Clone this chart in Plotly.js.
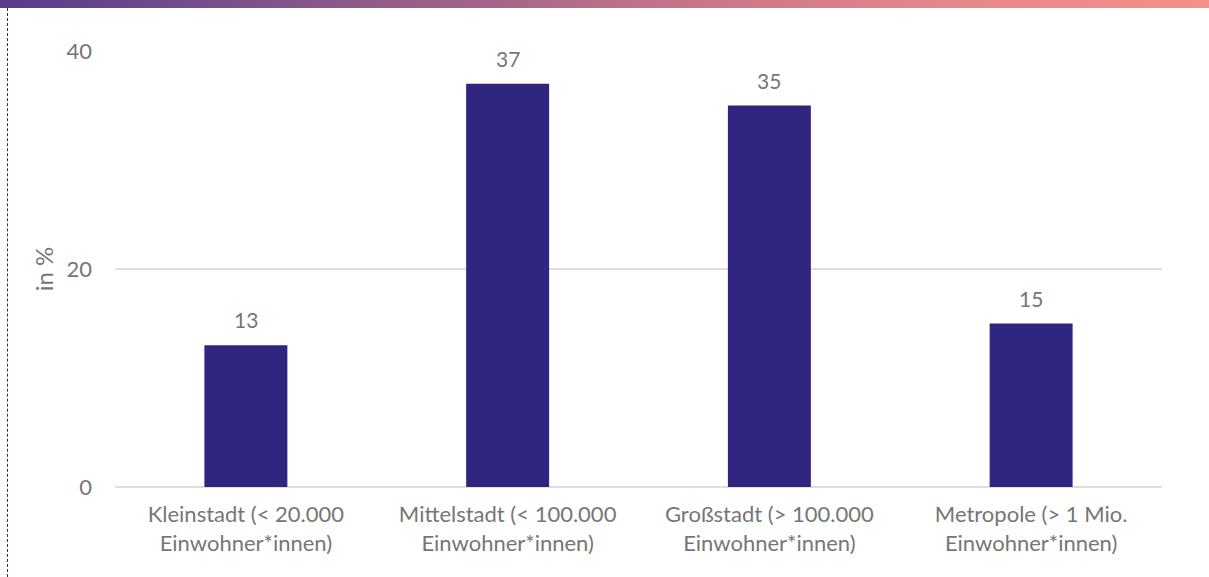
<!DOCTYPE html>
<html>
<head>
<meta charset="utf-8">
<script src="https://cdn.plot.ly/plotly-3.0.1.min.js"></script>
<style>
  html, body { margin: 0; padding: 0; background: #fff; }
  #wrap { position: relative; width: 1209px; height: 577px; overflow: hidden; }
  #topbar { position: absolute; left: 0; top: 0; width: 1209px; height: 8px;
    background: linear-gradient(to right, #583c8b 0%, #8a5a8a 28%, #c37388 55%, #e4878a 78%, #f39188 100%); z-index: 5; }
  #leftline { position: absolute; left: 7px; top: 8px; width: 0; height: 569px;
    border-left: 1px dashed #2c2a78; z-index: 5; }
  #chart { position: absolute; left: 0; top: 0; width: 1209px; height: 577px; }
</style>
</head>
<body>
<div id="wrap">
  <div id="chart"></div>
  <div id="topbar"></div>
  <div id="leftline"></div>
</div>
<script>
const categories = [
  "Kleinstadt (< 20.000<br>Einwohner*innen)",
  "Mittelstadt (< 100.000<br>Einwohner*innen)",
  "Großstadt (> 100.000<br>Einwohner*innen)",
  "Metropole (> 1 Mio.<br>Einwohner*innen)"
];
const values = [13, 37, 35, 15];
const yTicks = [0, 20, 40];

const fontFam = "Lato, 'Open Sans', sans-serif";
const grey = "#767676";

const trace = {
  type: "bar",
  x: categories,
  y: values,
  marker: { color: "#31267f" },
  hoverinfo: "x+y"
};

const annotations = values.map((v, i) => ({
  x: categories[i], y: v, xref: "x", yref: "y",
  text: String(v), showarrow: false,
  yanchor: "bottom", yshift: 11,
  font: { family: fontFam, size: 21, color: grey }
}));

const layout = {
  width: 1209, height: 577,
  margin: { l: 115, r: 47, t: 51, b: 90 },
  paper_bgcolor: "#fff", plot_bgcolor: "#fff",
  bargap: 0.683,
  showlegend: false,
  font: { family: fontFam, size: 20, color: grey },
  xaxis: {
    type: "category",
    showgrid: false, zeroline: false, showline: false,
    ticks: "", ticklabelstandoff: 12,
    tickfont: { family: fontFam, size: 22, color: grey }
  },
  yaxis: {
    range: [0, 40], tickvals: yTicks, ticktext: yTicks.map(String),
    showgrid: true, gridcolor: "#dedede", gridwidth: 1.5,
    zeroline: true, zerolinecolor: "#dedede", zerolinewidth: 1.5,
    showline: false, ticks: "", ticklabelstandoff: 22,
    tickfont: { family: fontFam, size: 22, color: grey },
    title: { text: "in %", font: { family: fontFam, size: 24, color: grey }, standoff: 6 }
  },
  annotations: annotations
};

Plotly.newPlot("chart", [trace], layout, { displayModeBar: false, staticPlot: true });
</script>
</body>
</html>
